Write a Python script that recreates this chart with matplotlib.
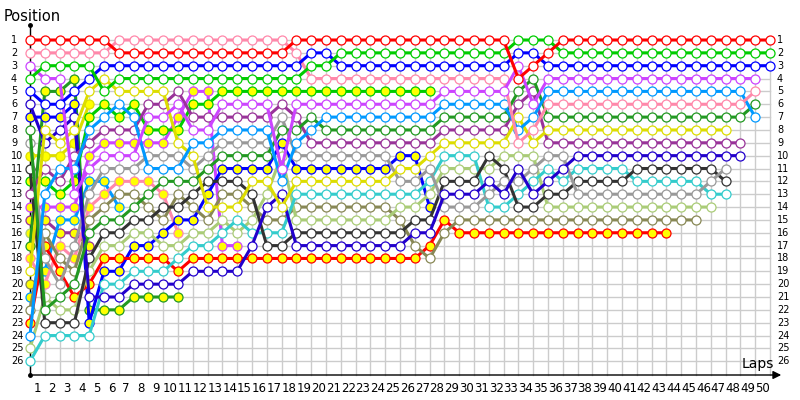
import matplotlib
matplotlib.use("Agg")
import matplotlib.pyplot as plt

# lap chart: position of every car at the end of each lap (index 0 = grid)
positions = list(range(1, 27))
lap_labels = [str(i) for i in range(1, 51)]

red_w = [1, 1, 1, 1, 1, 1, 2, 2, 2, 2, 2, 2, 2, 2, 2, 2, 2, 2, 1, 1, 1, 1, 1, 1, 1, 1, 1, 1, 1, 1, 1, 1, 1,
         4, 3, 2, 1, 1, 1, 1, 1, 1, 1, 1, 1, 1, 1, 1, 1, 1, 1]
pink_w = [2, 2, 2, 2, 2, 2, 1, 1, 1, 1, 1, 1, 1, 1, 1, 1, 1, 1, 2, 4, 4, 4, 4, 4, 4, 4, 4, 4, 4, 4, 4, 4, 4,
          9, 8, 6, 6, 6, 6, 6, 6, 6, 6, 6, 6, 6, 6, 6, 6, 5]
green_w = [4, 3, 3, 3, 3, 5, 4, 4, 4, 4, 4, 4, 4, 4, 4, 4, 4, 4, 4, 3, 3, 2, 2, 2, 2, 2, 2, 2, 2, 2, 2, 2, 2,
           1, 1, 1, 2, 2, 2, 2, 2, 2, 2, 2, 2, 2, 2, 2, 2, 2, 2]
blue_w = [5, 6, 6, 5, 4, 3, 3, 3, 3, 3, 3, 3, 3, 3, 3, 3, 3, 3, 3, 2, 2, 3, 3, 3, 3, 3, 3, 3, 3, 3, 3, 3, 3,
          2, 2, 3, 3, 3, 3, 3, 3, 3, 3, 3, 3, 3, 3, 3, 3, 3, 3]
mag_w = [3, 4, 4, 13, 11, 10, 10, 10, 7, 7, 6, 8, 8, 6, 6, 6, 6, 11, 6, 6, 6, 6, 6, 6, 6, 6, 6, 6, 5, 5, 5, 5, 5,
         3, 6, 4, 4, 4, 4, 4, 4, 4, 4, 4, 4, 4, 4, 4, 4, 4]
dblue_w = [6, 9, 8, 7, 21, 21, 21, 20, 20, 20, 20, 19, 19, 19, 19, 17, 14, 13, 17, 17, 17, 17, 17, 17, 17, 17,
           16, 16, 13, 13, 13, 12, 13, 11, 13, 12, 11, 10, 10, 10, 10, 10, 10, 10, 10, 10, 10, 10, 10]
blue_y = [7, 7, 7, 6, 23, 19, 19, 17, 17, 16, 15, 15, 13, 11, 11, 11, 11, 9, 11, 11, 11, 11, 11, 11, 11, 10,
          10, 14]
dgreen_w = [8, 22, 21, 20, 16, 15, 15, 14, 13, 12, 12, 12, 11, 10, 10, 10, 10, 8, 8, 7, 8, 8, 8, 8, 8, 8, 8, 8,
            7, 7, 7, 7, 7, 5, 4, 7, 7, 7, 7, 7, 7, 7, 7, 7, 7, 7, 7, 7, 7, 6]
gray_w = [9, 18, 20, 17, 13, 11, 11, 11, 10, 10, 10, 11, 10, 9, 9, 9, 9, 7, 10, 10, 10, 10, 10, 10, 10, 12, 12,
          11, 14, 14, 14, 13, 12, 12, 11, 10, 10, 13, 13, 13, 13, 13, 13, 13, 13, 13, 12, 11]
yellow_y = [10, 10, 10, 9, 6]
black_w = [11, 23, 23, 23, 18, 16, 16, 15, 15, 14, 14, 13, 12, 12, 12, 13, 17, 17, 16, 16, 16, 16, 16, 16, 16,
           16, 15, 15, 12, 12, 12, 10, 11, 14, 14, 13, 13, 12, 12, 12, 12, 11, 11, 11, 11, 11, 11, 12]
green_y = [12, 12, 13, 12, 7, 6, 7, 6, 8, 8, 8, 6, 6, 5, 5, 5, 5, 5, 5, 5, 5, 5, 5, 5, 5, 5, 5, 5]
purple_w = [13, 11, 12, 10, 9, 8, 8, 8, 6, 6, 5, 7, 7, 7, 7, 7, 7, 6, 7, 9, 9, 9, 9, 9, 9, 9, 9, 9, 8, 8, 8, 8,
            8, 6, 5, 9, 9, 9, 9, 9, 9, 9, 9, 9, 9, 9, 9, 9, 9]
mag_y = [14, 14, 14, 14, 10, 9, 9, 9, 9, 9, 7, 5, 5, 17, 17]
purple_y = [15, 15, 16, 16, 17]
lgreen_y = [16]
dgreen_y = [17, 5, 5, 4, 22, 22, 22, 21, 21, 21, 21]
pink_y = [18, 20, 17, 18, 14, 13, 12, 12, 12, 13, 16]
yellow_w = [19, 8, 9, 8, 5, 4, 5, 5, 5, 5, 9, 10, 14, 14, 14, 12, 12, 14, 12, 12, 12, 12, 12, 12, 12, 11, 11,
            10, 9, 9, 9, 9, 9, 7, 9, 8, 8, 8, 8, 8, 8, 8, 8, 8, 8, 8, 8, 8]
olive_y = [20]
lblue_y = [21, 19, 15, 15, 12, 12, 14]
olive_w = [22, 16, 18, 19, 15, 14, 13, 13, 14, 15, 13, 14, 15, 13, 13, 14, 15, 15, 14, 14, 14, 14, 14, 14, 14,
           15, 17, 18, 16, 15, 15, 15, 15, 15, 15, 15, 15, 15, 15, 15, 15, 15, 15, 15, 15, 15]
red_y = [23, 17, 19, 21, 20, 18, 18, 18, 18, 18, 19, 18, 18, 18, 18, 18, 18, 18, 18, 18, 18, 18, 18, 18, 18,
         18, 18, 17, 15, 16, 16, 16, 16, 16, 16, 16, 16, 16, 16, 16, 16, 16, 16, 16]
lblue_w = [24, 13, 11, 11, 8, 7, 6, 7, 11, 11, 11, 9, 9, 8, 8, 8, 8, 12, 9, 8, 7, 7, 7, 7, 7, 7, 7, 7, 6, 6, 6,
           6, 6, 8, 7, 5, 5, 5, 5, 5, 5, 5, 5, 5, 5, 5, 5, 5, 5, 7]
lgreen_w = [25, 21, 22, 22, 19, 17, 17, 16, 16, 17, 17, 16, 16, 15, 16, 15, 13, 10, 15, 15, 15, 15, 15, 15, 15,
            14, 14, 13, 11, 11, 11, 11, 10, 10, 10, 14, 14, 14, 14, 14, 14, 14, 14, 14, 14, 14, 14]
cyan_w = [26, 24, 24, 24, 24, 20, 20, 19, 19, 19, 18, 17, 17, 16, 15, 16, 16, 16, 13, 13, 13, 13, 13, 13, 13,
          13, 13, 12, 10, 10, 10, 14, 14, 13, 12, 11, 12, 11, 11, 11, 11, 12, 12, 12, 12, 12, 13, 13]

# (positions, line colour, marker fill) - drawn back to front
cars = [
    (olive_y, '#888855', '#ffff00'),
    (lgreen_y, '#aacc77', '#ffff00'),
    (purple_y, '#993399', '#ffff00'),
    (yellow_y, '#dddd00', '#ffff00'),
    (lblue_y, '#0099ff', '#ffff00'),
    (dgreen_y, '#229922', '#ffff00'),
    (pink_y, '#ff88aa', '#ffff00'),
    (mag_y, '#cc44ff', '#ffff00'),
    (blue_y, '#0000ff', '#ffff00'),
    (green_y, '#00cc00', '#ffff00'),
    (red_y, '#ff0000', '#ffff00'),
    (olive_w, '#888855', 'white'),
    (lgreen_w, '#aacc77', 'white'),
    (cyan_w, '#33cccc', 'white'),
    (black_w, '#333333', 'white'),
    (gray_w, '#999999', 'white'),
    (dblue_w, '#2200cc', 'white'),
    (purple_w, '#993399', 'white'),
    (yellow_w, '#dddd00', 'white'),
    (dgreen_w, '#229922', 'white'),
    (lblue_w, '#0099ff', 'white'),
    (pink_w, '#ff88aa', 'white'),
    (mag_w, '#cc44ff', 'white'),
    (blue_w, '#0000ff', 'white'),
    (green_w, '#00cc00', 'white'),
    (red_w, '#ff0000', 'white'),
]

# pixel helpers (800x400 canvas, lap 0 at x=30, step 14.8px; row 1 at y=40, step 12.85px)
def px(x):
    return (x - 30) / 14.8

def py(y):
    return (y - 40) / 12.85 + 1

fig = plt.figure(figsize=(8, 4), dpi=100)
ax = fig.add_axes([0, 0, 1, 1])
ax.set_xlim(px(0), px(800))
ax.set_ylim(py(400), py(0))
ax.axis('off')

n_laps = len(lap_labels)
bottom = py(375)

# grid
for lap in range(n_laps + 1):
    ax.plot([lap, lap], [1, bottom], color='#cccccc', lw=1, zorder=1)
for p in positions:
    ax.plot([0, n_laps], [p, p], color='#cccccc', lw=1, zorder=1)

# axes with arrow
ax.plot([0, 0], [bottom, py(25)], color='black', lw=1, zorder=2)
ax.plot([0, 0], [py(25), bottom], 'o', color='black', ms=2.5, zorder=2)
ax.annotate('', xy=(px(784), bottom), xytext=(0, bottom),
            arrowprops=dict(arrowstyle='-|>', color='black', lw=1, mutation_scale=12),
            zorder=2)

# cars
for i, (pos, col, fill) in enumerate(cars):
    laps = list(range(len(pos)))
    ax.plot(laps, pos, '-', color=col, lw=2.2, zorder=3 + i,
            marker='o', ms=6.5, mfc=fill, mec=col, mew=0.9, solid_joinstyle='round')

# tick labels
for p in positions:
    ax.text(px(11), p, str(p), ha='left', va='center', fontsize=7)
    ax.text(px(777), p, str(p), ha='left', va='center', fontsize=7)
for i, lab in enumerate(lap_labels):
    ax.text(i + 0.5, py(388), lab, ha='center', va='center', fontsize=8.5)

ax.text(px(4), py(16), 'Position', ha='left', va='center', fontsize=10.5)
ax.text(px(742), py(364), 'Laps', ha='left', va='center', fontsize=10)

fig.savefig('out.png', dpi=100)
